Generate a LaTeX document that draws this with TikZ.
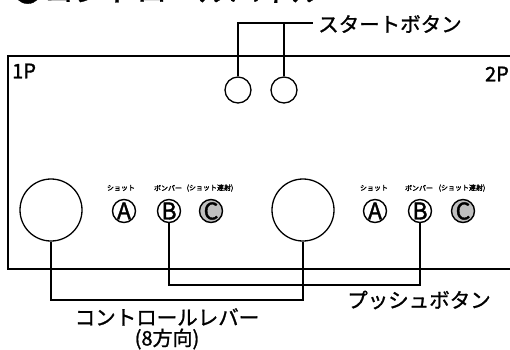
\documentclass[tikz,border=0pt]{standalone}
\usepackage{fontspec}
\setmainfont{Noto Sans CJK JP}
\newfontfamily\jp[FakeBold=1.2]{Noto Sans CJK JP}
\newfontfamily\jpsm[FakeBold=2]{Noto Sans CJK JP}
\newfontfamily\jpl[FakeBold=1.6]{Noto Sans CJK JP}
\newcommand{\fsz}[1]{\fontsize{#1}{#1}\selectfont}
\begin{document}
\begin{tikzpicture}[x=1pt,y=-1pt,
  lead/.style={line width=1.1pt},
  stick/.style={circle,draw,line width=1.3pt,minimum size=62pt,inner sep=0pt},
  startbtn/.style={circle,draw,line width=1.3pt,minimum size=26pt,inner sep=0pt},
  btn/.style={circle,draw,line width=1.4pt,minimum size=23pt,inner sep=0pt,font=\jpl\fsz{23}},
  btnc/.style={btn,fill=black!25},
  small/.style={font=\jpsm\fsz{7},inner sep=0pt},
  big/.style={font=\jp\fsz{20.5},inner sep=0pt},
]
\useasboundingbox (0,0) rectangle (510,349);
\begin{scope}
\clip (0,0) rectangle (510,349);
\node[anchor=base west,inner sep=0pt,font=\jp\fsz{31}] (title) at (12,1.5) {●コントロールパネル};
\draw[line width=2.6pt] (515,56) -- (8,56) -- (8,269) -- (515,269);
\end{scope}
% labels 1P 2P
\node[anchor=west,inner sep=0pt,font=\jpl\fsz{20}] (p1) at (12,71) {1P};
\node[anchor=east,inner sep=0pt,font=\jpl\fsz{20}] (p2) at (509,74) {2P};
% start buttons
\node[startbtn] (S1) at (238,90) {};
\node[startbtn] (S2) at (284,90) {};
\coordinate (sl) at (313,23);
\draw[lead] (S1.north) |- (sl);
\draw[lead] (S2.north) -- (S2.north |- sl);
\node[big,anchor=west] (startlbl) at (318,24) {スタートボタン};
% joysticks
\node[stick] (L) at (51,210) {};
\node[stick] (R) at (303,210) {};
% buttons
\node[btn] (A1) at (124,211) {A};
\node[btn] (B1) at (169,211) {B};
\node[btnc] (C1) at (211,211) {C};
\node[btn] (A2) at (375,211) {A};
\node[btn] (B2) at (420,211) {B};
\node[btnc] (C2) at (463,211) {C};
% small labels
\node[small] (la1) at (121,188) {ショット};
\node[small] (lb1) at (168,188) {ボンバー};
\node[small] (lc1) at (210,188) {(ショット連射)};
\node[small] (la2) at (374,188) {ショット};
\node[small] (lb2) at (419,188) {ボンバー};
\node[small] (lc2) at (462,188) {(ショット連射)};
% leaders
\coordinate (jl) at (0,300);
\coordinate (bl) at (0,285);
\draw[lead] (L.south) -- (L.south |- jl) -- (R.south |- jl) -- (R.south);
\draw[lead] (B1.south) -- (B1.south |- bl) -- (B2.south |- bl) -- (B2.south);
\node[big] (cl) at (167,317) {コントロールレバー};
\node[font=\jp\fsz{20},inner sep=0pt] (dir) at (167,339) {(8方向)};
\node[big] (pb) at (419,300) {プッシュボタン};
\end{tikzpicture}
\end{document}
